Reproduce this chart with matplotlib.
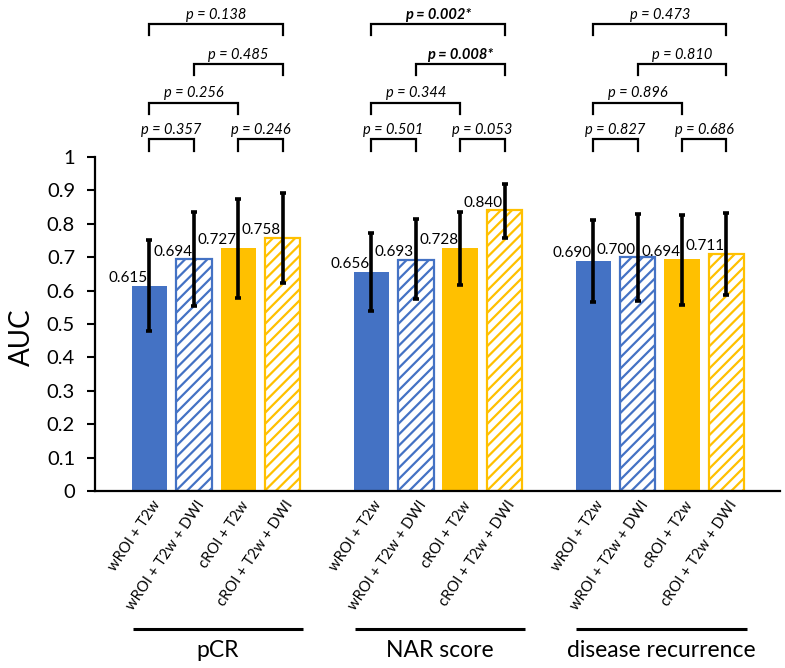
import matplotlib
matplotlib.use("Agg")
import matplotlib.pyplot as plt
import numpy as np

plt.rcParams['font.family'] = ['Lato', 'DejaVu Sans']
plt.rcParams['hatch.linewidth'] = 1.6

# ---------------- data ----------------
groups = ['pCR', 'NAR score', 'disease recurrence']
models = ['wROI + T2w', 'wROI + T2w + DWI', 'cROI + T2w', 'cROI + T2w + DWI']

auc_pcr = [0.615, 0.694, 0.727, 0.758]
auc_nar = [0.656, 0.693, 0.728, 0.840]
auc_dr = [0.690, 0.700, 0.694, 0.711]

ci_low_pcr = [0.480, 0.555, 0.578, 0.624]
ci_low_nar = [0.540, 0.574, 0.617, 0.757]
ci_low_dr = [0.565, 0.569, 0.557, 0.586]

ci_high_pcr = [0.750, 0.836, 0.875, 0.891]
ci_high_nar = [0.771, 0.813, 0.836, 0.919]
ci_high_dr = [0.811, 0.829, 0.827, 0.831]

# comparisons: (model i, model j) for each bracket level
comparisons = [(0, 1), (2, 3), (0, 2), (1, 3), (0, 3)]
p_pcr = ['0.357', '0.246', '0.256', '0.485', '0.138']
p_nar = ['0.501', '0.053', '0.344', '0.008*', '0.002*']
p_dr = ['0.827', '0.686', '0.896', '0.810', '0.473']

auc_all = [auc_pcr, auc_nar, auc_dr]
low_all = [ci_low_pcr, ci_low_nar, ci_low_dr]
high_all = [ci_high_pcr, ci_high_nar, ci_high_dr]
p_all = [p_pcr, p_nar, p_dr]

# ---------------- styling ----------------
BLUE = '#4472C4'
GOLD = '#FFC000'
bar_colors = [BLUE, BLUE, GOLD, GOLD]
bar_hatched = [False, True, False, True]
group_start = [0, 5, 10]
width = 0.8

fig = plt.figure(figsize=(7.85, 6.68), dpi=100)
ax = fig.add_axes([0.1204, 0.265, 0.8732, 0.50])

for g in range(3):
    xs = np.arange(4) + group_start[g]
    for k in range(4):
        x = xs[k]
        v = auc_all[g][k]
        if bar_hatched[k]:
            ax.bar(x, v, width=width, facecolor='white', edgecolor=bar_colors[k],
                   hatch='///', linewidth=1.6, zorder=2)
        else:
            ax.bar(x, v, width=width, color=bar_colors[k], zorder=2)
        lo = v - low_all[g][k]
        hi = high_all[g][k] - v
        ax.errorbar(x, v, yerr=[[lo], [hi]], fmt='none', ecolor='black',
                    elinewidth=2.6, capsize=2.3, capthick=2.6, zorder=4)
        ax.text(x - 0.48, v + 0.002, f'{v:.3f}', ha='center', va='bottom',
                fontsize=11, zorder=5)
        # x tick labels (rotated)
        ax.text(x + 0.17, -0.034, models[k], rotation=56, rotation_mode='anchor',
                ha='right', va='center', fontsize=10.6)
    # group underline + label
    ax.plot([xs[0] - 0.38, xs[3] + 0.47], [-0.413, -0.413], color='black',
            lw=2.2, clip_on=False, solid_capstyle='butt')
    ax.text((xs[0] + xs[3]) / 2 + 0.04, -0.496, groups[g], ha='center',
            va='baseline', fontsize=16.5)

    # significance brackets
    levels = [1.053, 1.053, 1.163, 1.278, 1.398]
    for c, (i, j) in enumerate(comparisons):
        y = levels[c]
        x1, x2 = xs[i], xs[j]
        ax.plot([x1, x1, x2, x2], [y - 0.034, y, y, y - 0.034], color='black',
                lw=1.6, clip_on=False, solid_joinstyle='miter')
        ptxt = p_all[g][c]
        bold = ptxt.endswith('*')
        ax.text((x1 + x2) / 2, y + 0.016, f'p = {ptxt}', ha='center',
                va='baseline', fontsize=10.5, style='italic',
                fontweight='bold' if bold else 'normal')

ax.set_xlim(-1.239, 14.207)
ax.set_ylim(0, 1)
ax.set_yticks(np.arange(0, 1.01, 0.1))
ax.set_yticklabels(['0'] + [f'{t:.1f}' for t in np.arange(0.1, 0.95, 0.1)] + ['1'])
ax.tick_params(axis='y', labelsize=14.5, length=6, width=1.5, direction='out', pad=8)
ax.set_xticks([])
for s in ['top', 'right']:
    ax.spines[s].set_visible(False)
ax.spines['left'].set_linewidth(1.6)
ax.spines['bottom'].set_linewidth(1.6)
ax.set_ylabel('AUC', fontsize=20)
ax.yaxis.set_label_coords(-0.087, 0.46)

fig.savefig('out.png', dpi=100)
